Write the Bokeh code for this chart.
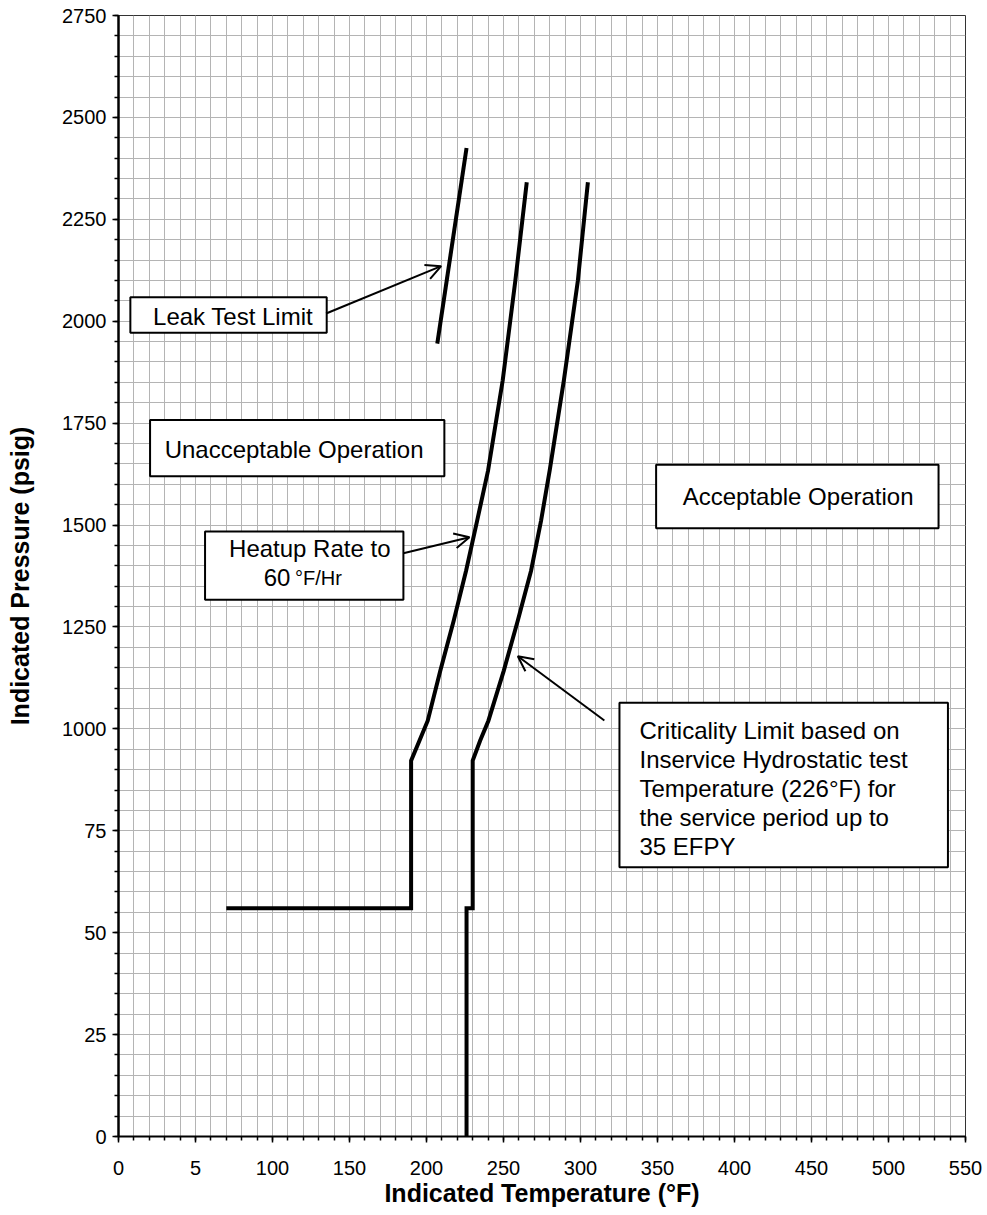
from bokeh.plotting import figure
from bokeh.models import Range1d, FixedTicker, Arrow, OpenHead
from bokeh.core.properties import value
from bokeh.embed import file_html
from bokeh.resources import INLINE

# ---- data ----
heatup_T = [70, 190, 190, 195.4, 200.8, 209.0, 217.7, 225.7, 232.9, 240.0, 249.5, 257.7, 265.1]
heatup_P = [560, 560, 922, 971, 1020, 1143, 1266, 1388, 1511, 1634, 1855, 2100, 2341]

crit_T = [226, 226, 230, 230, 234.8, 240.2, 250.2, 259.3, 267.9, 274.4, 280.0, 289.2, 298.3, 304.8]
crit_P = [0, 560, 560, 922, 971, 1020, 1143, 1266, 1388, 1511, 1634, 1855, 2100, 2341]

leak_T = [207, 226]
leak_P = [1945, 2425]

x_ticks = [0, 50, 100, 150, 200, 250, 300, 350, 400, 450, 500, 550]
x_tick_labels = ["0", "5", "100", "150", "200", "250", "300", "350", "400", "450", "500", "550"]
y_ticks = [0, 250, 500, 750, 1000, 1250, 1500, 1750, 2000, 2250, 2500, 2750]
y_tick_labels = ["0", "25", "50", "75", "1000", "1250", "1500", "1750", "2000", "2250", "2500", "2750"]

FONT = "Liberation Sans"

p = figure(frame_width=847, frame_height=1121,
           min_border_left=118, min_border_right=20, min_border_top=15, min_border_bottom=78,
           x_range=Range1d(0, 550), y_range=Range1d(0, 2750),
           output_backend="svg", toolbar_location=None,
           background_fill_color="white", border_fill_color="white")

p.outline_line_color = "#333333"
p.outline_line_width = 1

p.xaxis.ticker = FixedTicker(ticks=x_ticks, minor_ticks=list(range(0, 551, 10)))
p.yaxis.ticker = FixedTicker(ticks=y_ticks, minor_ticks=list(range(0, 2751, 50)))
p.xaxis.major_label_overrides = {t: l for t, l in zip(x_ticks, x_tick_labels)}
p.yaxis.major_label_overrides = {t: l for t, l in zip(y_ticks, y_tick_labels)}

for ax in (p.xaxis[0], p.yaxis[0]):
    ax.major_label_text_font = FONT
    ax.major_label_text_font_size = "20px"
    ax.major_label_text_color = "black"
    ax.axis_label_text_font = FONT
    ax.axis_label_text_font_size = "25px"
    ax.axis_label_text_font_style = "bold"
    ax.axis_label_text_color = "black"
    ax.major_tick_in = 0
    ax.minor_tick_in = 0
    ax.major_tick_out = 6
    ax.minor_tick_out = 4
    ax.major_tick_line_color = "black"
    ax.minor_tick_line_color = "black"
    ax.major_tick_line_width = 1.5
    ax.minor_tick_line_width = 1.5
    ax.axis_line_color = "black"

p.xaxis.axis_label = "Indicated Temperature (°F)"
p.yaxis.axis_label = "Indicated Pressure (psig)"
p.yaxis.axis_line_width = 2.5
p.xaxis.axis_line_width = 2
p.xaxis.major_label_standoff = 18
p.yaxis.major_label_standoff = 6
p.xaxis.axis_label_standoff = 1
p.yaxis.axis_label_standoff = 25

for g in (p.xgrid[0], p.ygrid[0]):
    g.grid_line_color = "#b4b4b4"
    g.minor_grid_line_color = "#b4b4b4"
    g.grid_line_width = 1
    g.minor_grid_line_width = 1

# ---- curves ----
p.line(heatup_T, heatup_P, line_color="black", line_width=4, line_join="miter")
p.line(crit_T, crit_P, line_color="black", line_width=4, line_join="miter")
p.line(leak_T, leak_P, line_color="black", line_width=4)

# ---- annotation boxes (data coordinates) ----
box_left = [7.7, 20.5, 349.1, 56.2, 325.3]
box_right = [135.2, 211.6, 532.5, 185.0, 538.6]
box_bottom = [1971.6, 1620, 1492, 1317, 660.6]
box_top = [2059, 1758, 1648, 1484, 1064]
p.quad(left=box_left, right=box_right, bottom=box_bottom, top=box_top,
       fill_color="white", line_color="black", line_width=2)

DY = 17  # baseline correction

def txt(x, y, s, size="24px", align="center"):
    p.text(x=[x], y=[y + DY], text=[s], text_font=value(FONT), text_font_size=size,
           text_color="black", text_align=align, text_baseline="alphabetic")

txt(74.4, 1995, "Leak Test Limit")
txt(114.0, 1668, "Unacceptable Operation")
txt(441.3, 1552, "Acceptable Operation")
txt(124.2, 1425, "Heatup Rate to")
txt(94.3, 1354, "60", align="left")
txt(114.6, 1354, "°F/Hr", size="20px", align="left")
crit_lines = ["Criticality Limit based on", "Inservice Hydrostatic test",
              "Temperature (226°F) for", "the service period up to", "35 EFPY"]
crit_base = [979.6, 908.5, 836.5, 765.4, 693.5]
for s, yb in zip(crit_lines, crit_base):
    txt(338.3, yb, s, align="left")

# ---- arrows ----
arrows = [((134.8, 2019), (209.5, 2135)),
          ((185.0, 1431), (227.9, 1470)),
          ((315.5, 1020.5), (259.3, 1178))]
for (xs, ys), (xe, ye) in arrows:
    p.add_layout(Arrow(end=OpenHead(size=15, line_width=2, line_color="black"),
                       x_start=xs, y_start=ys, x_end=xe, y_end=ye,
                       line_width=2, line_color="black"))

open("out.html", "w").write(file_html(p, INLINE))
